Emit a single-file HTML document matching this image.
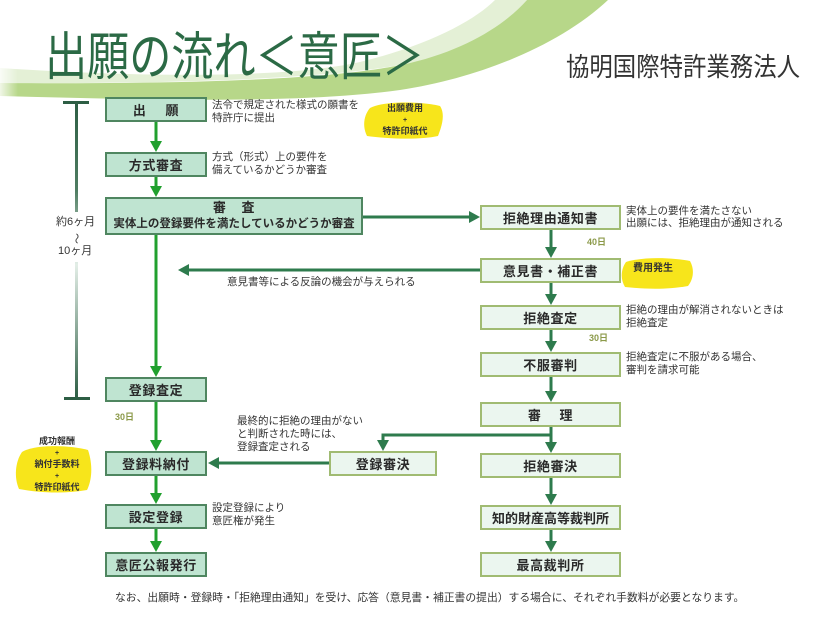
<!DOCTYPE html>
<html><head><meta charset="utf-8">
<style>
html,body{margin:0;padding:0;background:#fff;}
body{width:825px;height:626px;position:relative;overflow:hidden;font-family:"Liberation Sans","Noto Sans CJK JP",sans-serif;color:#333;}
svg{position:absolute;left:0;top:0;}
.b{position:absolute;box-sizing:border-box;display:flex;align-items:center;justify-content:center;font-size:13px;font-weight:bold;color:#2a2a2a;letter-spacing:0.6px;white-space:nowrap;}
.L{background:#bfe4d1;border:2px solid #4f8660;}
.R{background:#ebf6ef;border:2px solid #a0bb72;}
.t{position:absolute;font-size:10.5px;line-height:13px;white-space:nowrap;color:#333;}
.d{position:absolute;font-size:9px;font-weight:bold;color:#8c9a4a;white-space:nowrap;line-height:12px;}
.y{position:absolute;font-size:9px;font-weight:bold;color:#333;text-align:center;line-height:10.5px;white-space:nowrap;}
</style></head><body>
<svg width="825" height="626" viewBox="0 0 825 626">
<defs>
<linearGradient id="fadeL" x1="0" y1="0" x2="1" y2="0">
<stop offset="0" stop-color="#fff" stop-opacity="0.8"/>
<stop offset="0.06" stop-color="#fff" stop-opacity="0"/>
</linearGradient>
<linearGradient id="br" gradientUnits="userSpaceOnUse" x1="0" y1="102" x2="0" y2="398">
<stop offset="0" stop-color="#2d5e44"/>
<stop offset="0.3" stop-color="#4f7d62"/>
<stop offset="0.55" stop-color="#e3eee7"/>
<stop offset="1" stop-color="#2d5e44"/>
</linearGradient>
</defs>
<!-- swoosh -->
<path d="M0,68 C120,76 280,80 360,62 C430,45 475,20 495,0 L527,0 C505,27 465,52 410,63 C330,80 150,84 0,83 Z" fill="#e4f0d6"/>
<path d="M0,83 C150,84 330,82 410,63 C465,50 505,25 527,0 L608,0 C560,45 480,78 400,90 C300,104 150,100 0,96 Z" fill="#b7d789"/>
<rect x="0" y="60" width="300" height="45" fill="url(#fadeL)"/>
<!-- yellow highlights -->
<path d="M370,108 C385,100 425,102 440,106 C446,115 441,128 438,136 C420,140 390,139 367,136 C362,126 364,115 370,108 Z" fill="#f7e51b"/>
<path d="M626,262 C645,256 675,258 690,261 C695,270 693,280 688,286 C665,290 645,289 625,287 C620,279 621,269 626,262 Z" fill="#f7e51b"/>
<path d="M22,452 C35,444 70,445 88,450 C93,465 92,480 87,490 C65,494 40,493 19,489 C14,478 15,462 22,452 Z" fill="#f7e51b"/>
<!-- bracket -->
<rect x="63" y="101" width="26" height="3" fill="#2d5e44"/>
<rect x="64" y="397" width="26" height="3" fill="#2d5e44"/>
<rect x="75" y="102" width="3" height="110" fill="url(#br)"/>
<rect x="75" y="262" width="3" height="136" fill="url(#br)"/>
<!-- left column arrows (bright green) -->
<g fill="#21a02e" stroke="#21a02e">
<line x1="156" y1="122" x2="156" y2="143" stroke-width="3"/><polygon points="150,141 162,141 156,152" stroke="none"/>
<line x1="156" y1="177" x2="156" y2="188" stroke-width="3"/><polygon points="150,186 162,186 156,197" stroke="none"/>
<line x1="156" y1="235" x2="156" y2="368" stroke-width="3"/><polygon points="150,366 162,366 156,377" stroke="none"/>
<line x1="156" y1="402" x2="156" y2="442" stroke-width="3"/><polygon points="150,440 162,440 156,451" stroke="none"/>
<line x1="156" y1="476" x2="156" y2="495" stroke-width="3"/><polygon points="150,493 162,493 156,504" stroke="none"/>
<line x1="156" y1="529" x2="156" y2="543" stroke-width="3"/><polygon points="150,541 162,541 156,552" stroke="none"/>
</g>
<!-- right column & horizontals (dark green) -->
<g fill="#2e7b4d" stroke="#2e7b4d">
<line x1="551" y1="230" x2="551" y2="249" stroke-width="3"/><polygon points="545,247 557,247 551,258" stroke="none"/>
<line x1="551" y1="283" x2="551" y2="296" stroke-width="3"/><polygon points="545,294 557,294 551,305" stroke="none"/>
<line x1="551" y1="330" x2="551" y2="343" stroke-width="3"/><polygon points="545,341 557,341 551,352" stroke="none"/>
<line x1="551" y1="377" x2="551" y2="393" stroke-width="3"/><polygon points="545,391 557,391 551,402" stroke="none"/>
<line x1="551" y1="427" x2="551" y2="444" stroke-width="3"/><polygon points="545,442 557,442 551,453" stroke="none"/>
<line x1="551" y1="478" x2="551" y2="496" stroke-width="3"/><polygon points="545,494 557,494 551,505" stroke="none"/>
<line x1="551" y1="530" x2="551" y2="543" stroke-width="3"/><polygon points="545,541 557,541 551,552" stroke="none"/>
<line x1="363" y1="217" x2="471" y2="217" stroke-width="3"/><polygon points="469,211 469,223 480,217" stroke="none"/>
<line x1="480" y1="270" x2="187" y2="270" stroke-width="3"/><polygon points="189,264 189,276 178,270" stroke="none"/>
<line x1="329" y1="463" x2="217" y2="463" stroke-width="3"/><polygon points="219,457 219,469 208,463" stroke="none"/>
<polyline points="551,435 383,435 383,442" fill="none" stroke-width="3"/><polygon points="377,440 389,440 383,451" stroke="none"/>
</g>
</svg>

<!-- title -->
<div style="position:absolute;left:45px;top:27px;font-size:52px;line-height:62px;color:#2b6a45;white-space:nowrap;transform:scaleX(0.81);transform-origin:0 0;">出願の流れ＜意匠＞</div>
<div style="position:absolute;left:566px;top:52px;font-size:26px;line-height:30px;color:#333;white-space:nowrap;transform:scaleX(0.9);transform-origin:0 0;">協明国際特許業務法人</div>

<!-- bracket labels -->
<div class="t" style="left:56px;top:216px;font-size:11px;">約6ヶ月</div>
<div class="t" style="left:70px;top:232px;font-size:11px;transform:rotate(90deg);">〜</div>
<div class="t" style="left:58px;top:245px;font-size:11px;">10ヶ月</div>

<!-- left boxes -->
<div class="b L" style="left:105px;top:97px;width:102px;height:25px;">出<span style="display:inline-block;width:19px"></span>願</div>
<div class="b L" style="left:105px;top:152px;width:102px;height:25px;">方式審査</div>
<div class="b L" style="left:105px;top:197px;width:258px;height:38px;flex-direction:column;line-height:17px;">
<div>審<span style="display:inline-block;width:15px"></span>査</div>
<div style="font-size:11.5px;letter-spacing:0;">実体上の登録要件を満たしているかどうか審査</div>
</div>
<div class="b L" style="left:105px;top:377px;width:102px;height:25px;">登録査定</div>
<div class="b L" style="left:105px;top:451px;width:102px;height:25px;">登録料納付</div>
<div class="b L" style="left:105px;top:504px;width:102px;height:25px;">設定登録</div>
<div class="b L" style="left:105px;top:552px;width:102px;height:25px;">意匠公報発行</div>

<!-- right boxes -->
<div class="b R" style="left:480px;top:205px;width:141px;height:25px;">拒絶理由通知書</div>
<div class="b R" style="left:480px;top:258px;width:141px;height:25px;">意見書・補正書</div>
<div class="b R" style="left:480px;top:305px;width:141px;height:25px;">拒絶査定</div>
<div class="b R" style="left:480px;top:352px;width:141px;height:25px;">不服審判</div>
<div class="b R" style="left:480px;top:402px;width:141px;height:25px;">審<span style="display:inline-block;width:18px"></span>理</div>
<div class="b R" style="left:480px;top:453px;width:141px;height:25px;">拒絶審決</div>
<div class="b R" style="left:480px;top:505px;width:141px;height:25px;letter-spacing:0;">知的財産高等裁判所</div>
<div class="b R" style="left:480px;top:552px;width:141px;height:25px;">最高裁判所</div>
<div class="b R" style="left:329px;top:451px;width:108px;height:25px;">登録審決</div>

<!-- annotations -->
<div class="t" style="left:212px;top:99px;">法令で規定された様式の願書を<br>特許庁に提出</div>
<div class="t" style="left:212px;top:151px;">方式（形式）上の要件を<br>備えているかどうか審査</div>
<div class="t" style="left:626px;top:205px;line-height:12px;">実体上の要件を満たさない<br>出願には、拒絶理由が通知される</div>
<div class="t" style="left:227px;top:276px;">意見書等による反論の機会が与えられる</div>
<div class="t" style="left:626px;top:304px;">拒絶の理由が解消されないときは<br>拒絶査定</div>
<div class="t" style="left:626px;top:351px;">拒絶査定に不服がある場合、<br>審判を請求可能</div>
<div class="t" style="left:237px;top:415px;">最終的に拒絶の理由がない<br>と判断された時には、<br>登録査定される</div>
<div class="t" style="left:212px;top:502px;">設定登録により<br>意匠権が発生</div>

<div class="d" style="left:587px;top:236px;">40日</div>
<div class="d" style="left:589px;top:332px;">30日</div>
<div class="d" style="left:115px;top:411px;">30日</div>

<!-- highlight texts -->
<div class="y" style="left:375px;top:103px;width:60px;">出願費用<br><span style="font-size:7px">+</span><br>特許印紙代</div>
<div class="y" style="left:633px;top:264px;font-size:10px;">費用発生</div>
<div class="y" style="left:22px;top:436px;width:70px;line-height:11px;">成功報酬<br><span style="font-size:7px">+</span><br>納付手数料<br><span style="font-size:7px">+</span><br>特許印紙代</div>

<!-- bottom note -->
<div class="t" style="left:115px;top:592px;font-size:10.8px;">なお、出願時・登録時・「拒絶理由通知」を受け、応答（意見書・補正書の提出）する場合に、それぞれ手数料が必要となります。</div>
</body></html>
